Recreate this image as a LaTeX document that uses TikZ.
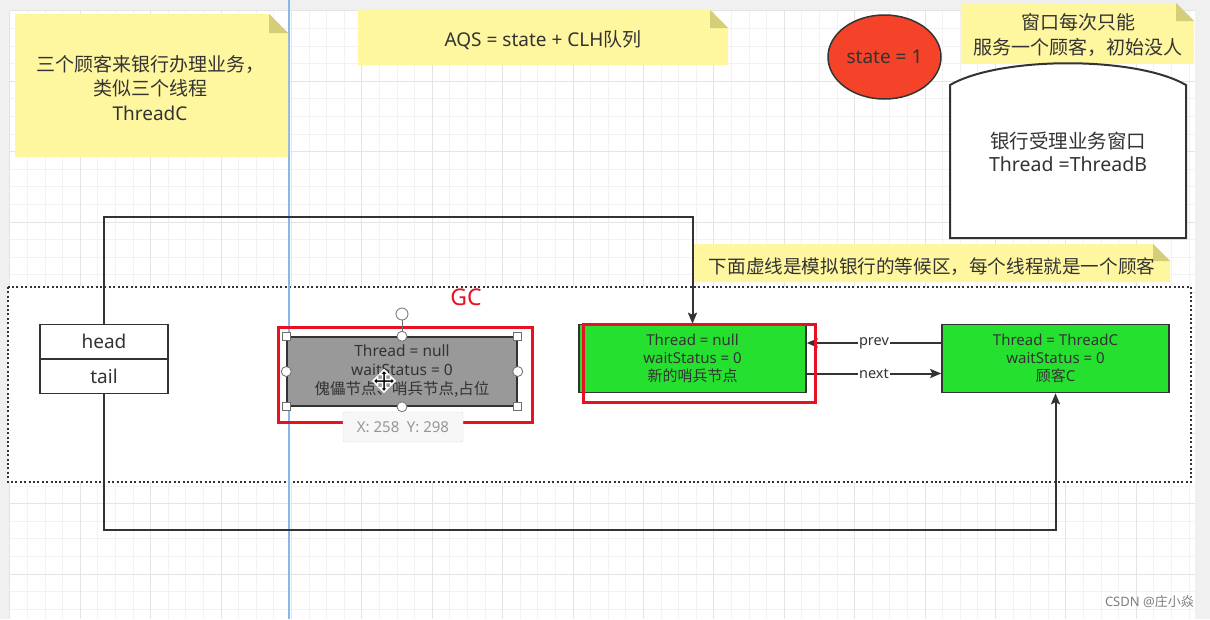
\documentclass[tikz,border=0pt]{standalone}
\usepackage{fontspec}
\setmainfont{Noto Sans CJK SC}
\newfontfamily\lat{Noto Sans}
\usetikzlibrary{shapes.geometric,arrows.meta}
\definecolor{notey}{RGB}{255,246,160}
\definecolor{notefold}{RGB}{212,205,122}
\definecolor{txt}{RGB}{51,51,51}
\definecolor{gridminor}{RGB}{242,242,242}
\definecolor{gridmajor}{RGB}{228,228,228}
\definecolor{marginc}{RGB}{240,240,240}
\definecolor{nodegreen}{RGB}{38,224,48}
\definecolor{statered}{RGB}{244,67,40}
\definecolor{hlred}{RGB}{232,17,35}
\definecolor{guide}{RGB}{135,182,235}
\definecolor{boxgray}{RGB}{153,153,153}
\definecolor{tipfill}{RGB}{247,247,247}
\definecolor{tipborder}{RGB}{218,218,218}
\definecolor{tiptext}{RGB}{150,150,150}
\definecolor{wmtext}{RGB}{125,125,125}
\definecolor{handle}{RGB}{110,110,110}
\newcommand\NoteShape[5]{%
  \fill[notey] (#1,#2) -- (#3-#5,#2) -- (#3,#2+#5) -- (#3,#4) -- (#1,#4) -- cycle;
  \fill[notefold] (#3-#5,#2) -- (#3-#5,#2+#5) -- (#3,#2+#5) -- cycle;}
\begin{document}
\begin{tikzpicture}[x=1pt,y=-1pt,
  every node/.style={text=txt, inner sep=0pt},
  notetxt/.style={align=center, font=\fontsize{19}{24.5}\selectfont},
  boxtxt/.style={align=center, font=\fontsize{15}{18.2}\selectfont},
  qbox/.style={draw=txt, line width=1.5pt, minimum width=227pt, minimum height=68pt, boxtxt},
  conn/.style={draw=txt, line width=2pt},
  arr/.style={conn, -{Stealth[length=11pt,width=9pt,inset=2pt]}},
  lbl/.style={fill=white, inner sep=1.5pt, font=\lat\fontsize{14.5}{16}\selectfont},
  sqh/.style={draw=handle, fill=white, line width=0.8pt, minimum size=8pt, inner sep=0pt},
  cih/.style={circle, draw=handle, fill=white, line width=0.8pt, minimum size=10pt, inner sep=0pt},
  hl/.style={draw=hlred, line width=3pt},
]
\useasboundingbox (0,0) rectangle (1210,619);
% background and grid
\fill[marginc] (0,0) rectangle (1210,619);
\fill[white] (10,11) rectangle (1195,619);
\foreach \i in {0,...,67} {\draw[gridminor, line width=0.8pt] (9.8+17.6*\i,11) -- (9.8+17.6*\i,619);}
\foreach \j in {0,...,34} {\draw[gridminor, line width=0.8pt] (10,10.8+17.6*\j) -- (1195,10.8+17.6*\j);}
\foreach \i in {0,...,16} {\draw[gridmajor, line width=0.8pt] (9.8+70.4*\i,11) -- (9.8+70.4*\i,619);}
\foreach \j in {0,...,8} {\draw[gridmajor, line width=0.8pt] (10,10.8+70.4*\j) -- (1195,10.8+70.4*\j);}
% waiting area
\fill[white] (8,287) rectangle (1191,482);
\draw[txt, line width=2pt, dash pattern=on 2pt off 2.4pt] (8,287) rectangle (1191,482);
% guide line
\draw[guide, line width=1.2pt] (289,0) -- (289,619);
% notes
\NoteShape{15}{14}{288}{157}{19}
\node[notetxt] (n1) at (150,88) {三个顾客来银行办理业务，\\类似三个线程\\{\lat ThreadC}};
\NoteShape{358}{10}{728}{65}{18}
\node[notetxt] (n2) at (543,40) {{\lat AQS = state + CLH}队列};
\NoteShape{961}{3}{1194}{63}{18}
\node[notetxt] (n3) at (1078,35) {窗口每次只能\\服务一个顾客，初始没人};
\NoteShape{693}{244}{1170}{282}{17}
\node[notetxt, font=\fontsize{18.6}{20}\selectfont] (n4) at (932,267) {下面虚线是模拟银行的等候区，每个线程就是一个顾客};
% state ellipse
\node[ellipse, draw=txt, fill=statered, line width=1.5pt, minimum width=113pt, minimum height=84pt, font=\lat\fontsize{19}{20}\selectfont] (state) at (884.5,57) {state = 1};
% bank window
\filldraw[fill=white, draw=txt, line width=2pt] (950,238) -- (950,85) .. controls (1000,56) and (1136,56) .. (1186,85) -- (1186,238) -- cycle;
\node[align=center, font=\fontsize{19.5}{23}\selectfont] (win) at (1068,152) {银行受理业务窗口\\{\lat Thread =ThreadB}};
% head / tail
\node[draw=txt, fill=white, line width=1.5pt, minimum width=128pt, minimum height=34.5pt, font=\lat\fontsize{19}{20}\selectfont] (head) at (104,341.5) {head};
\node[draw=txt, fill=white, line width=1.5pt, minimum width=128pt, minimum height=34.5pt, font=\lat\fontsize{19}{20}\selectfont] (tail) at (104,376) {tail};
% queue nodes
\node[qbox, fill=boxgray, minimum width=230pt, minimum height=69pt, font=\fontsize{15.5}{19}\selectfont] (dummy) at (402,371.5) {{\lat Thread = null}\\{\lat waitStatus = 0}\\傀儡节点、哨兵节点,占位};
\node[qbox, fill=nodegreen] (g1) at (692.5,358.5) {{\lat Thread = null}\\{\lat waitStatus = 0}\\新的哨兵节点};
\node[qbox, fill=nodegreen] (g2) at (1055.5,358.5) {{\lat Thread = ThreadC}\\{\lat waitStatus = 0}\\顾客{\lat C}};
% connectors
\coordinate (hc) at (104,217);
\coordinate (tc) at (104,530);
\draw[arr] (head.north) -- (hc) -| (g1.north);
\draw[arr] (tail.south) -- (tc) -| (g2.south);
\draw[arr] ([yshift=15.5pt]g2.west) -- node[lbl] (prevl) {prev} ([yshift=15.5pt]g1.east);
\draw[arr] ([yshift=-15pt]g1.east) -- node[lbl] (nextl) {next} ([yshift=-15pt]g2.west);
% highlights
\draw[hl] (278,327) rectangle (532,422);
\draw[hl] (583,324) rectangle (815,402);
\node[text=hlred, font=\lat\fontsize{23}{24}\selectfont] (gc) at (466,297) {GC};
% selection handles
\draw[handle, line width=0.8pt] (dummy.north) -- (402,314);
\node[cih, minimum size=12pt] (rot) at (402,314) {};
\foreach \a in {north west,north east,south west,south east} {\node[sqh] at (dummy.\a) {};}
\foreach \a in {north,south,west,east} {\node[cih] at (dummy.\a) {};}
% tooltip
\node[draw=tipborder, fill=tipfill, rounded corners=2pt, minimum width=120pt, minimum height=30pt, text=tiptext, font=\lat\fontsize{15}{16}\selectfont] (tip) at (403,427) {X: 258\enspace Y: 298};
% move cursor
\begin{scope}[shift={(384,381)}]
\filldraw[fill=black, draw=white, line width=1.5pt, line join=miter] (0,-11) -- (4.5,-6.5) -- (1.5,-6.5) -- (1.5,-1.5) -- (6.5,-1.5) -- (6.5,-4.5) -- (11,0) -- (6.5,4.5) -- (6.5,1.5) -- (1.5,1.5) -- (1.5,6.5) -- (4.5,6.5) -- (0,11) -- (-4.5,6.5) -- (-1.5,6.5) -- (-1.5,1.5) -- (-6.5,1.5) -- (-6.5,4.5) -- (-11,0) -- (-6.5,-4.5) -- (-6.5,-1.5) -- (-1.5,-1.5) -- (-1.5,-6.5) -- (-4.5,-6.5) -- cycle;
\end{scope}
% watermark
\node[anchor=east, text=wmtext, font=\fontsize{13}{14}\selectfont] (wm) at (1194,602) {{\lat CSDN @}庄小焱};
\end{tikzpicture}
\end{document}
